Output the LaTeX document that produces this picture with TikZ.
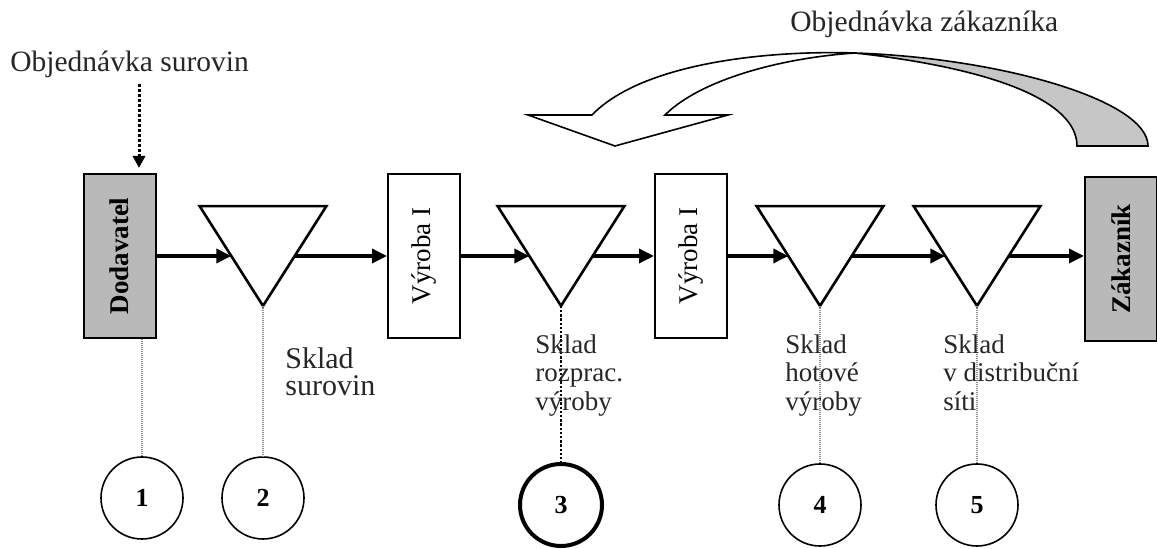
\documentclass[tikz,border=0pt]{standalone}
\usepackage{fontspec}
\setmainfont{Liberation Serif}
\usepackage{graphicx}
\usetikzlibrary{arrows.meta,calc}

\begin{document}
\begin{tikzpicture}[x=0.5pt,y=-0.5pt,
  unit/.style={draw=black,line width=1pt,minimum width=36pt,minimum height=82pt,inner sep=0pt,fill=white,font=\fontsize{13.5}{14}\selectfont},
  outer/.style={unit,fill=gray!55,font=\fontsize{13.5}{14}\selectfont\bfseries},
  store/.style={minimum width=63pt,minimum height=49.5pt,inner sep=0pt},
  storeline/.style={draw=black,line width=1.3pt,fill=white},
  stage/.style={circle,draw=black,line width=.8pt,minimum size=41pt,inner sep=0pt,fill=white,font=\fontsize{13}{13}\selectfont\bfseries},
  caption/.style={anchor=north west,align=left,inner sep=0pt,text=black!85,font=\fontsize{13.5}{14.25}\selectfont},
  heading/.style={anchor=base west,inner sep=0pt,text=black!85,font=\fontsize{14.75}{16}\selectfont},
  flow/.style={-{Triangle[length=7.5pt,width=7pt]},line width=1.7pt},
  order/.style={-{Triangle[length=6pt,width=6pt]},line width=1.5pt,dash pattern=on 1.5pt off 1pt,shorten >=2.5pt},
  link/.style={draw=black!45,line width=.6pt,dash pattern=on .6pt off .4pt},
  linkbold/.style={draw=black,line width=1.2pt,dash pattern=on 1.2pt off .9pt},
  ribbon/.style={draw=black,line width=.8pt}]

\path[use as bounding box] (0,0) rectangle (1157,549);

% customer order, drawn as a twisted ribbon
\draw[ribbon,fill=gray!45] (855,53) .. controls (1000,58) and (1148,100) .. (1148,146)
  -- (1077,146) .. controls (1077,100) and (990,68) .. (855,53) -- cycle;
\draw[ribbon,fill=white] (528,115) -- (592,115) .. controls (640,65) and (760,50) .. (855,53)
  .. controls (780,58) and (700,80) .. (665,115) -- (728,115) -- (615,146) -- cycle;
\node[heading] (custorder) at (790,32) {Objednávka zákazníka};

% supplier order
\node[heading] (supplyorder) at (10,72) {Objednávka surovin};
\coordinate (ordertop) at (139,84);

% chain
\node[outer] (dod) at (119.5,256) {\rotatebox{90}{Dodavatel}};
\node[store] (s1) at (263,256) {};
\node[unit] (m1) at (424,256) {\rotatebox{90}{Výroba I}};
\node[store] (s2) at (561,256) {};
\node[unit] (m2) at (691,256) {\rotatebox{90}{Výroba I}};
\node[store] (s3) at (820,256) {};
\node[store] (s4) at (977,256) {};
\node[outer] (zak) at (1121,259) {\rotatebox{90}{Zákazník}};

\draw[storeline] (s1.north west) -- (s1.north east) -- (s1.south) -- cycle;
\draw[storeline] (s2.north west) -- (s2.north east) -- (s2.south) -- cycle;
\draw[storeline] (s3.north west) -- (s3.north east) -- (s3.south) -- cycle;
\draw[storeline] (s4.north west) -- (s4.north east) -- (s4.south) -- cycle;

\draw[order] (ordertop) -- (ordertop |- dod.north);

\draw[flow] (dod.east) -- ($(s1.west)!.5!(s1.center)$);
\draw[flow] ($(s1.east)!.5!(s1.center)$) -- (m1.west);
\draw[flow] (m1.east) -- ($(s2.west)!.5!(s2.center)$);
\draw[flow] ($(s2.east)!.5!(s2.center)$) -- (m2.west);
\draw[flow] (m2.east) -- ($(s3.west)!.5!(s3.center)$);
\draw[flow] ($(s3.east)!.5!(s3.center)$) -- ($(s4.west)!.5!(s4.center)$);
\draw[flow] ($(s4.east)!.5!(s4.center)$) -- (zak.west |- s4.center);

% stock points
\node[stage] (c1) at (142,498) {1};
\node[stage] (c2) at (263,498) {2};
\node[stage,line width=2pt] (c3) at (561,505) {3};
\node[stage] (c4) at (820,505) {4};
\node[stage] (c5) at (977,505) {5};

\draw[link] (c1.north |- dod.south) -- (c1.north);
\draw[link] (s1.south) -- (c2.north);
\draw[linkbold] (s2.south) -- (c3.north);
\draw[link] (s3.south) -- (c4.north);
\draw[link] (s4.south) -- (c5.north);

\node[caption,font=\fontsize{15}{13.5}\selectfont] (rawstock) at (285,347) {Sklad\\surovin};
\node[caption] (wipstock) at (535,334) {Sklad\\rozprac.\\výroby};
\node[caption] (fgstock) at (785,334) {Sklad\\hotové\\výroby};
\node[caption] (diststock) at (943,334) {Sklad\\v distribuční\\síti};

\end{tikzpicture}
\end{document}
